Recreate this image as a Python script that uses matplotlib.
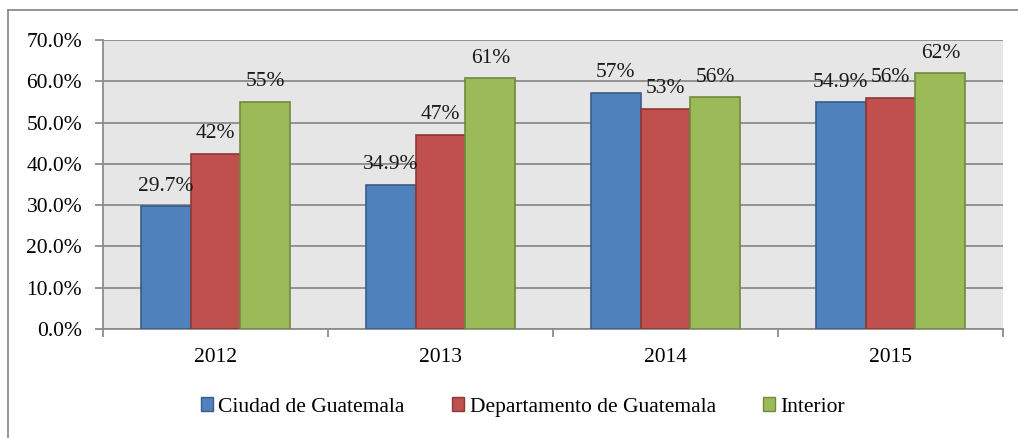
import matplotlib
matplotlib.use("Agg")
import matplotlib.pyplot as plt
from matplotlib.lines import Line2D
from matplotlib.patches import Patch
import numpy as np

years = ["2012", "2013", "2014", "2015"]
series_names = ["Ciudad de Guatemala", "Departamento de Guatemala", "Interior"]
ciudad = [29.7, 34.9, 57.2, 54.9]
departamento = [42.4, 47.1, 53.4, 56.0]
interior = [55.1, 60.7, 56.1, 61.9]
ciudad_labels = ["29.7%", "34.9%", "57%", "54.9%"]
departamento_labels = ["42%", "47%", "53%", "56%"]
interior_labels = ["55%", "61%", "56%", "62%"]

fills = ["#4F81BD", "#C0504D", "#9BBB59"]
edges = ["#385D8A", "#8C3836", "#71893F"]

plt.rcParams["font.family"] = ["Liberation Serif", "DejaVu Serif"]

W, H = 1018, 438
fig = plt.figure(figsize=(W / 100, H / 100), dpi=100)
ax = fig.add_axes([103 / W, 1 - 329 / H, (1003 - 103) / W, (329 - 40) / H])
ax.set_facecolor("#E6E6E6")

x = np.arange(len(years))
width = 0.222
values = [ciudad, departamento, interior]
labels = [ciudad_labels, departamento_labels, interior_labels]
for i, (vals, labs) in enumerate(zip(values, labels)):
    pos = x + (i - 1) * width
    ax.bar(pos, vals, width, color=fills[i], edgecolor=edges[i], linewidth=1.2,
           zorder=3)
    for p, v, lab in zip(pos, vals, labs):
        ax.text(p, v + 2.6, lab, ha="center", va="bottom", fontsize=15.5,
                color="#1a1a1a", zorder=4)

ax.set_xlim(-0.5, len(years) - 0.5)
ax.set_ylim(0, 70)
ax.set_yticks(np.arange(0, 71, 10))
ax.set_yticklabels([f"{t:.1f}%" for t in np.arange(0, 71, 10)], fontsize=15.5)
ax.yaxis.grid(True, color="#8C8C8C", linewidth=1.3, zorder=0)
ax.set_axisbelow(True)

ax.set_xticks(x)
ax.set_xticklabels(years, fontsize=15.5)
ax.tick_params(axis="x", length=0, pad=14)
ax.set_xticks(np.arange(-0.5, len(years)), minor=True)
ax.tick_params(axis="x", which="minor", length=6, color="#8C8C8C", width=1.3)
ax.tick_params(axis="y", length=6, color="#8C8C8C", width=1.3, pad=9)

for side in ["top", "right"]:
    ax.spines[side].set_visible(False)
for side in ["left", "bottom"]:
    ax.spines[side].set_color("#8C8C8C")
    ax.spines[side].set_linewidth(1.3)

handles = [Patch(facecolor=fills[i], edgecolor=edges[i], linewidth=1.0)
           for i in range(3)]
fig.legend(handles, series_names, loc="center", bbox_to_anchor=(523 / W, 1 - 407 / H),
           ncol=3, frameon=False, fontsize=15.5, handlelength=0.56, handleheight=0.56,
           handletextpad=0.25, columnspacing=2.2)

fig.add_artist(Line2D([8 / W, 8 / W], [0, 1 - 10 / H], transform=fig.transFigure,
                      color="#8C8C8C", linewidth=1.3))
fig.add_artist(Line2D([8 / W, 1], [1 - 10 / H, 1 - 10 / H], transform=fig.transFigure,
                      color="#8C8C8C", linewidth=1.3))

fig.savefig("out.png", dpi=100)
